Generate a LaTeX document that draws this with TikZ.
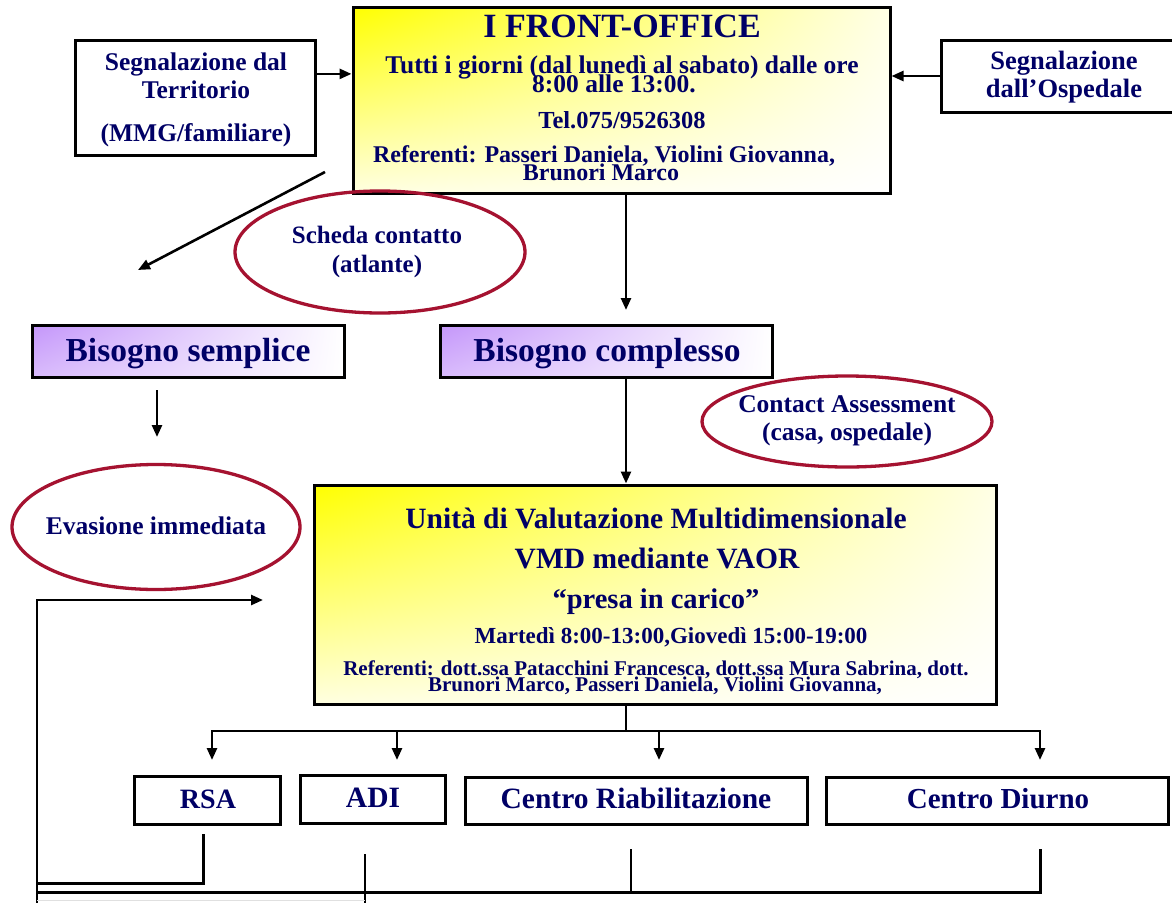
\documentclass[tikz,border=0pt]{standalone}
\usepackage{fontspec}
\setmainfont{Liberation Serif}
\usetikzlibrary{arrows.meta,calc,shapes.geometric,shadings}
\definecolor{txt}{RGB}{0,0,102}
\definecolor{ell}{RGB}{165,18,48}
\definecolor{lav}{RGB}{196,150,250}
\newcommand\fsz[1]{\fontsize{#1}{#1}\selectfont}
\tikzset{
  box/.style={draw=black, line width=3pt, inner sep=0pt, fill=white},
  ybox/.style={box, shade, upper left=yellow, upper right=yellow!10!white,
     lower left=yellow!12!white, lower right=white},
  pbox/.style={box, shade, upper left=lav, upper right=white,
     lower left=lav!65!white, lower right=white},
  oval/.style={ellipse, draw=ell, line width=3.3pt, inner sep=0pt},
  tx/.style={text=txt, font=\bfseries, inner sep=0pt, anchor=base},
  con/.style={line width=2.6pt, draw=black},
  arr/.style={con, -{Triangle[length=12pt,width=10pt]}},
}
\begin{document}
\begin{tikzpicture}[x=1pt,y=-1pt]
\useasboundingbox (0,0) rectangle (1172,902);
\fill[white] (0,0) rectangle (1172,902);

% ---------- boxes ----------
\node[ybox, minimum width=537pt, minimum height=186pt] (fo) at (621.5,100) {};
\node[box, minimum width=240pt, minimum height=115pt] (lt) at (195,97.5) {};
\node[box, minimum width=239pt, minimum height=72pt] (rh) at (1060.5,76) {};
\node[pbox, minimum width=312pt, minimum height=52pt] (bs) at (188,351) {};
\node[pbox, minimum width=332pt, minimum height=52pt] (bc) at (606,351) {};
\node[ybox, minimum width=682pt, minimum height=219pt] (uvm) at (655,594.5) {};
\node[box, minimum width=146pt, minimum height=48pt] (rsa) at (207,800) {};
\node[box, minimum width=145pt, minimum height=48pt] (adi) at (372.5,799) {};
\node[box, minimum width=342pt, minimum height=47pt] (cr) at (636,800.5) {};
\node[box, minimum width=342pt, minimum height=47pt] (cd) at (997,800.5) {};

% ---------- ellipses ----------
\node[oval, minimum width=290pt, minimum height=122pt] (sc) at (380,252) {};
\node[oval, minimum width=290pt, minimum height=91pt] (ca) at (847,421.5) {};
\node[oval, minimum width=288pt, minimum height=125pt] (ev) at (156,527) {};

% ---------- texts ----------
\node[tx, font=\bfseries\fsz{34}] (fo1) at (622,37) {I FRONT-OFFICE};
\node[tx, font=\bfseries\fsz{25.5}] (fo2) at (622,73) {Tutti i giorni (dal lunedì al sabato) dalle ore};
\node[tx, font=\bfseries\fsz{25.5}] (fo3) at (614,92) {8:00 alle 13:00.};
\node[tx, font=\bfseries\fsz{24.5}] (fo4) at (622,128) {Tel.075/9526308};
\node[tx, font=\bfseries\fsz{24}] (fo5) at (604,162) {Referenti: Passeri Daniela, Violini Giovanna,};
\node[tx, font=\bfseries\fsz{24}] (fo6) at (601,180) {Brunori Marco};

\node[tx, font=\bfseries\fsz{25.5}] (lt1) at (196,70) {Segnalazione dal};
\node[tx, font=\bfseries\fsz{25.5}] (lt2) at (196,98) {Territorio};
\node[tx, font=\bfseries\fsz{25.5}] (lt3) at (196,141) {(MMG/familiare)};

\node[tx, font=\bfseries\fsz{26.5}] (rh1) at (1064,69) {Segnalazione};
\node[tx, font=\bfseries\fsz{26.5}] (rh2) at (1064,97) {dall’Ospedale};

\node[tx, font=\bfseries\fsz{25}] (sc1) at (377,243) {Scheda contatto};
\node[tx, font=\bfseries\fsz{25}] (sc2) at (377,272) {(atlante)};

\node[tx, font=\bfseries\fsz{33.5}] (bs1) at (188,361) {Bisogno semplice};
\node[tx, font=\bfseries\fsz{33.5}] (bc1) at (607,361) {Bisogno complesso};

\node[tx, font=\bfseries\fsz{25.5}] (ca1) at (847,412) {Contact Assessment};
\node[tx, font=\bfseries\fsz{25.5}] (ca2) at (847,440) {(casa, ospedale)};

\node[tx, font=\bfseries\fsz{25.5}] (ev1) at (156,534) {Evasione immediata};

\node[tx, font=\bfseries\fsz{29.5}] (u1) at (656,528) {Unità di Valutazione Multidimensionale};
\node[tx, font=\bfseries\fsz{29.5}] (u2) at (657,568) {VMD mediante VAOR};
\node[tx, font=\bfseries\fsz{28.5}] (u3) at (656,608) {“presa in carico”};
\node[tx, font=\bfseries\fsz{23}] (u4) at (671,643) {Martedì 8:00-13:00,Giovedì 15:00-19:00};
\node[tx, font=\bfseries\fsz{21}] (u5) at (656,675) {Referenti: dott.ssa Patacchini Francesca, dott.ssa Mura Sabrina, dott.};
\node[tx, font=\bfseries\fsz{21}] (u6) at (655,691) {Brunori Marco, Passeri Daniela, Violini Giovanna,};

\node[tx, font=\bfseries\fsz{28}] (rsa1) at (208,808) {RSA};
\node[tx, font=\bfseries\fsz{29.5}] (adi1) at (373,807) {ADI};
\node[tx, font=\bfseries\fsz{29.5}] (cr1) at (636,808) {Centro Riabilitazione};
\node[tx, font=\bfseries\fsz{29}] (cd1) at (998,808) {Centro Diurno};

% ---------- coordinates ----------
\coordinate (lta) at ($(lt.north east)!0.3!(lt.south east)$);
\coordinate (d1) at (325,172);
\coordinate (d2) at (138,270);
\coordinate (m1) at (626,310);
\coordinate (s1) at (157,390);
\coordinate (s2) at (157,437);
\coordinate (f0) at (37,906);
\coordinate (f1) at (263,600);
\coordinate (bar) at (626,731);
\coordinate (t1) at (212,760);
\coordinate (t2) at (397,760);
\coordinate (t3) at (659,760);
\coordinate (t4) at (1040,760);
\coordinate (r1) at (203,834);
\coordinate (fl) at (37,883);
\coordinate (b0) at (37,892);
\coordinate (crl) at (631,849);
\coordinate (cdl) at (1040,849);
\coordinate (ad1) at (365,854);
\coordinate (ad2) at (365,906);
\coordinate (g0) at (37,900);
\coordinate (g1) at (365,900);

% ---------- connectors ----------
\draw[arr] (lta) -- (lta -| fo.west);
\draw[arr] (rh.west) -- (rh.west -| fo.east);
\draw[arr] (d1) -- (d2);
\draw[arr] (fo.south -| m1) -- (m1);
\draw[arr] (s1) -- (s2);
\draw[arr] (bc.south -| m1) -- (uvm.north -| m1);
\draw[arr] (f0) |- (f1);
\draw[con] (uvm.south -| bar) -- (bar);
\draw[arr] (bar) -| (t1);
\draw[arr] (bar) -| (t2);
\draw[arr] (bar) -| (t3);
\draw[arr] (bar) -| (t4);
\draw[con, line width=3pt] (r1) |- (fl);
\draw[con, line width=3pt] (cdl) |- (b0);
\draw[con] (crl) -- (crl |- b0);
\draw[con] (ad1) -- (ad2);
\draw[line width=1pt, draw=black!12] (g0) -- (g1);
\end{tikzpicture}
\end{document}
